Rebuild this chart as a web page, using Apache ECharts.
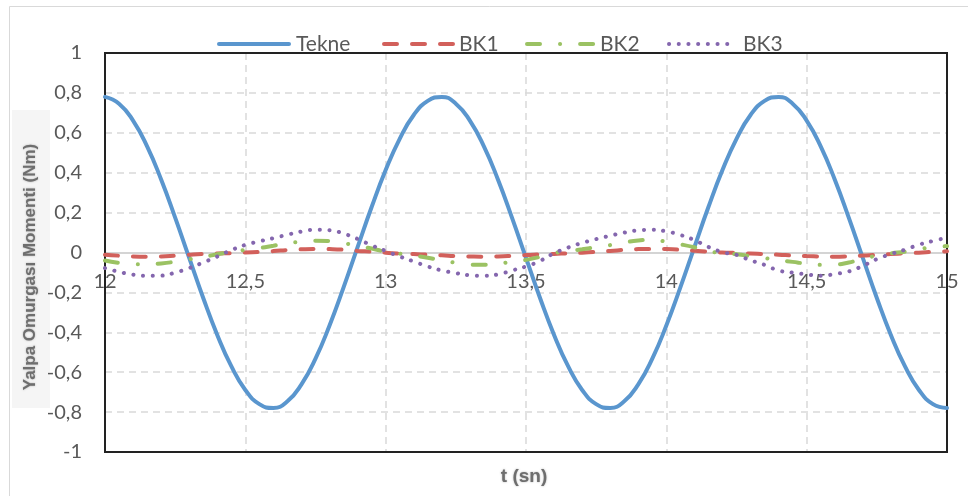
<!DOCTYPE html>
<html>
<head>
<meta charset="utf-8">
<script src="https://cdn.jsdelivr.net/npm/echarts@6/dist/echarts.min.js"></script>
<style>html,body{margin:0;padding:0;background:#fff}#c{width:968px;height:496px}</style>
</head>
<body>
<div id="c"></div>
<script>
const seriesNames = ["Tekne", "BK1", "BK2", "BK3"];
const xTickLabels = ["12", "12,5", "13", "13,5", "14", "14,5", "15"];
const yTickLabels = ["-1", "-0,8", "-0,6", "-0,4", "-0,2", "0", "0,2", "0,4", "0,6", "0,8", "1"];
const times = [12.00,12.05,12.10,12.15,12.20,12.25,12.30,12.35,12.40,12.45,
  12.50,12.55,12.60,12.65,12.70,12.75,12.80,12.85,12.90,12.95,
  13.00,13.05,13.10,13.15,13.20,13.25,13.30,13.35,13.40,13.45,
  13.50,13.55,13.60,13.65,13.70,13.75,13.80,13.85,13.90,13.95,
  14.00,14.05,14.10,14.15,14.20,14.25,14.30,14.35,14.40,14.45,
  14.50,14.55,14.60,14.65,14.70,14.75,14.80,14.85,14.90,14.95,15.00];
const tekne = [0.780,0.746,0.661,0.532,0.366,0.175,-0.027,-0.228,-0.413,-0.570,
  -0.689,-0.760,-0.779,-0.746,-0.661,-0.532,-0.366,-0.175,0.027,0.228,
  0.413,0.570,0.689,0.760,0.780,0.746,0.661,0.532,0.366,0.175,
  -0.027,-0.228,-0.413,-0.570,-0.689,-0.760,-0.779,-0.746,-0.661,-0.532,
  -0.366,-0.175,0.027,0.228,0.413,0.570,0.689,0.760,0.780,0.746,
  0.661,0.532,0.366,0.175,-0.027,-0.228,-0.413,-0.570,-0.689,-0.760,-0.779];
const bk1 = [-0.011,-0.016,-0.020,-0.021,-0.020,-0.016,-0.011,-0.007,-0.005,-0.003,
  0.000,0.003,0.007,0.012,0.016,0.018,0.017,0.014,0.008,0.004,
  -0.001,-0.005,-0.008,-0.011,-0.014,-0.018,-0.020,-0.021,-0.020,-0.017,
  -0.013,-0.010,-0.007,-0.004,-0.001,0.003,0.008,0.013,0.017,0.018,
  0.017,0.014,0.009,0.004,0.000,-0.002,-0.005,-0.008,-0.011,-0.015,
  -0.018,-0.020,-0.021,-0.019,-0.015,-0.012,-0.008,-0.004,-0.001,0.003,0.006];
const bk2 = [-0.040,-0.052,-0.058,-0.059,-0.055,-0.046,-0.034,-0.022,-0.009,0.004,
  0.013,0.022,0.034,0.046,0.054,0.059,0.058,0.047,0.034,0.020,
  0.004,-0.006,-0.015,-0.026,-0.040,-0.051,-0.060,-0.062,-0.056,-0.047,
  -0.037,-0.022,-0.003,0.007,0.016,0.027,0.037,0.050,0.060,0.064,
  0.054,0.041,0.026,0.008,-0.004,-0.009,-0.018,-0.028,-0.038,-0.047,
  -0.056,-0.062,-0.061,-0.050,-0.033,-0.015,-0.004,0.004,0.017,0.026,0.032];
const bk3 = [-0.078,-0.097,-0.111,-0.117,-0.116,-0.101,-0.078,-0.050,-0.020,0.012,
  0.038,0.056,0.072,0.089,0.105,0.114,0.112,0.095,0.068,0.036,
  0.008,-0.020,-0.045,-0.070,-0.090,-0.103,-0.114,-0.117,-0.110,-0.090,
  -0.070,-0.042,-0.004,0.025,0.048,0.067,0.084,0.100,0.111,0.114,
  0.106,0.088,0.062,0.028,0.002,-0.012,-0.039,-0.062,-0.090,-0.101,
  -0.110,-0.117,-0.108,-0.095,-0.067,-0.033,-0.008,0.014,0.039,0.058,0.074];

const values = [tekne, bk1, bk2, bk3];
const colors = ["#5A96CE", "#D2605B", "#9BC263", "#8466AE"];
const dashes = [null, [13, 15], [13, 20, 0.1, 20], [0.1, 9.6]];
const FONT = "Lato";

const chart = echarts.init(document.getElementById('c'), null, {renderer: 'canvas'});
const series = seriesNames.map((name, i) => ({
  name: name,
  type: 'line',
  smooth: true,
  showSymbol: false,
  symbol: 'none',
  data: times.map((t, j) => [t, values[i][j]]),
  lineStyle: {color: colors[i], width: 4, type: dashes[i] || 'solid', cap: 'round'},
  itemStyle: {color: colors[i]},
  z: 2 + i
}));

// custom legend (line samples + real text)
const legendPos = [[219, 289, 296], [384, 453, 459], [527, 594, 600], [669, 730, 743]];
const legendGraphics = [];
seriesNames.forEach((name, i) => {
  const p = legendPos[i];
  legendGraphics.push({type: 'line', shape: {x1: p[0], y1: 44, x2: p[1], y2: 44}, silent: true,
    style: {stroke: colors[i], lineWidth: 4, lineCap: 'round', lineDash: dashes[i] || null}});
  legendGraphics.push({type: 'text', x: p[2], y: 44, silent: true,
    style: {text: name, fill: '#595959', font: '21px ' + FONT, align: 'left', verticalAlign: 'middle'}});
});

chart.setOption({
  animation: false,
  backgroundColor: '#fff',
  textStyle: {fontFamily: FONT},
  grid: {left: 105, right: 21, top: 53, bottom: 44, show: false, containLabel: false},
  xAxis: {
    type: 'value', min: 12, max: 15, interval: 0.5,
    position: 'bottom', offset: -199.5,
    axisLine: {onZero: false, lineStyle: {color: '#d4d4d4', width: 2}},
    axisTick: {show: false},
    axisLabel: {
      color: '#595959', fontSize: 20, margin: 19, fontFamily: FONT,
      formatter: v => xTickLabels[Math.round((v - 12) / 0.5)]
    },
    splitLine: {show: true, lineStyle: {color: '#d9d9d9', width: 1.5, type: [7, 5]}}
  },
  yAxis: {
    type: 'value', min: -1, max: 1, interval: 0.2,
    axisLine: {show: true, onZero: false, lineStyle: {color: '#222', width: 2}},
    axisTick: {show: false},
    axisLabel: {
      color: '#595959', fontSize: 20, margin: 23, fontFamily: FONT,
      formatter: v => yTickLabels[Math.round((v + 1) / 0.2)]
    },
    splitLine: {show: true, lineStyle: {color: '#d9d9d9', width: 1.5, type: [7, 5]}}
  },
  graphic: [
    {type: 'rect', shape: {x: 9.5, y: 6.5, width: 970, height: 500}, style: {fill: 'none', stroke: '#d9d9d9', lineWidth: 1}, z: -10, silent: true},
    {type: 'rect', shape: {x: 105, y: 53, width: 842, height: 399}, style: {fill: 'none', stroke: '#222', lineWidth: 2}, z: 1, silent: true},
    {type: 'rect', shape: {x: 12, y: 110, width: 38, height: 298}, style: {fill: '#f5f5f5'}, z: -9, silent: true},
    {type: 'text', x: 30, y: 267, rotation: Math.PI / 2,
      style: {text: 'Yalpa Omurgası Momenti (Nm)', fill: '#6e6e6e', font: 'bold 17px "Liberation Sans", Arial, sans-serif', align: 'center', verticalAlign: 'middle', textShadowColor: 'rgba(100,100,100,0.5)', textShadowBlur: 2}},
    {type: 'text', x: 524, y: 477,
      style: {text: 't (sn)', fill: '#6e6e6e', font: 'bold 19px "Liberation Sans", Arial, sans-serif', align: 'center', verticalAlign: 'middle', textShadowColor: 'rgba(100,100,100,0.5)', textShadowBlur: 2}}
  ].concat(legendGraphics),
  series: series
});
</script>
</body>
</html>
